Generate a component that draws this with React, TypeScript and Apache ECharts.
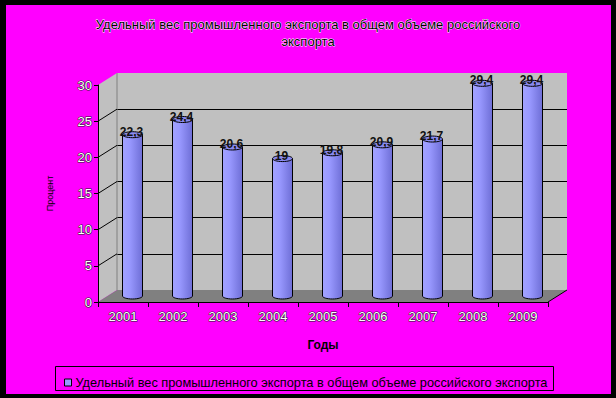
import React, { useEffect, useRef } from "react";
import * as echarts from "echarts";

const years = ["2001", "2002", "2003", "2004", "2005", "2006", "2007", "2008", "2009"];
const shares = [22.3, 24.4, 20.6, 19, 19.8, 20.9, 21.7, 29.4, 29.4];
const wallTicks = [5, 10, 15, 20, 25];
const yMin = 0;
const yMax = 30;
const yStep = 5;
const titleText = "Удельный вес промышленного экспорта в общем объеме российского\nэкспорта";
const seriesName = "Удельный вес промышленного экспорта в общем объеме российского экспорта";
const xName = "Годы";
const yName = "Процент";

// layout
const FL = 98, FT = 85, W = 450, H = 217; // front plane
const DX = 19, DY = -12; // depth offset
const FB = FT + H;

export default function App() {
  const ref = useRef<HTMLDivElement>(null);
  useEffect(() => {
    const chart = echarts.init(ref.current!, null, { renderer: "svg" });
    const outline = { color: "#fff", textBorderColor: "#222", textBorderWidth: 1, fontSize: 13, fontFamily: "Liberation Sans" };
    const hiddenAxis = { show: false };
    chart.setOption({
      animation: false,
      backgroundColor: "#000",
      title: {
        text: titleText,
        left: "center",
        top: 11,
        textStyle: { fontSize: 13, fontWeight: "normal", color: "#000", textBorderColor: "#fff", textBorderWidth: 0.8, fontFamily: "Liberation Sans", lineHeight: 17 },
      },
      legend: {
        left: 59,
        top: 371,
        icon: "rect",
        itemWidth: 7,
        itemHeight: 7,
        itemGap: 4,
        textStyle: { fontSize: 12.75, color: "#000", fontFamily: "Liberation Sans", padding: [0, 0, 0, -1] },
        data: [{ name: seriesName, itemStyle: { color: "#9999FF", borderColor: "#000", borderWidth: 1 } }],
      },
      grid: [
        { left: FL, top: FT, width: W, height: H, z: 0 },
        { left: FL + DX, top: FT + DY, width: W, height: H, show: true, backgroundColor: "#C0C0C0", borderWidth: 0 },
        { left: FL + DX / 2, top: FT + DY / 2, width: W, height: H },
      ],
      xAxis: [
        {
          gridIndex: 0, type: "category", data: years, z: 10,
          axisLine: { lineStyle: { color: "#000", width: 1 } },
          axisTick: { show: true, length: 5, lineStyle: { color: "#000" } },
          axisLabel: { ...outline, margin: 8 },
          name: xName, nameLocation: "middle", nameGap: 37,
          nameTextStyle: { fontSize: 12, fontWeight: "bold", color: "#000", fontFamily: "Liberation Sans" },
        },
        { gridIndex: 1, type: "category", data: years, ...hiddenAxis },
        { gridIndex: 2, type: "category", data: years, ...hiddenAxis },
      ],
      yAxis: [
        {
          gridIndex: 0, type: "value", min: yMin, max: yMax, interval: yStep, z: 10,
          axisLine: { show: true, lineStyle: { color: "#000", width: 1 } },
          axisTick: { show: true, length: 4, lineStyle: { color: "#000" } },
          axisLabel: { ...outline, margin: 6 },
          splitLine: { show: false },
          name: yName, nameLocation: "middle", nameRotate: 90, nameGap: 44,
          nameTextStyle: { fontSize: 9, color: "#000", fontFamily: "Liberation Sans" },
        },
        {
          gridIndex: 1, type: "value", min: yMin, max: yMax, interval: yStep,
          axisLine: { show: false }, axisTick: { show: false }, axisLabel: { show: false },
          splitLine: { show: true, showMinLine: false, showMaxLine: false, lineStyle: { color: "#000", width: 1 } },
        },
        { gridIndex: 2, type: "value", min: yMin, max: yMax, interval: yStep, show: false },
      ],
      graphic: [
        { type: "rect", z: -10, shape: { x: 6, y: 5, width: 605, height: 389 }, style: { fill: "#FF00FF" } },
        {
          type: "polygon", z: 1,
          shape: { points: [[FL, FT], [FL + DX, FT + DY], [FL + DX, FB + DY], [FL, FB]] },
          style: { fill: "#C0C0C0" },
        },
        {
          type: "line", z: 1,
          shape: { x1: FL + DX, y1: FT + DY, x2: FL + DX, y2: FB + DY },
          style: { stroke: "#808080", lineWidth: 1 },
        },
        {
          type: "polygon", z: 1,
          shape: { points: [[FL, FB], [FL + W, FB], [FL + W + DX, FB + DY], [FL + DX, FB + DY]] },
          style: { fill: "#808080" },
        },
        {
          type: "line", z: 11,
          shape: { x1: FL + W, y1: FB, x2: FL + W + DX, y2: FB + DY },
          style: { stroke: "#000", lineWidth: 1 },
        },
        {
          type: "rect", z: 11,
          shape: { x: 55.5, y: 366.5, width: 498, height: 24 },
          style: { fill: "none", stroke: "#000", lineWidth: 1 },
        },
      ],
      series: [
        {
          type: "custom",
          xAxisIndex: 0, yAxisIndex: 0, z: 3, silent: true,
          data: wallTicks.map((v) => [0, v]),
          renderItem: (params: any, api: any) => {
            const p = api.coord([0, api.value(1)]);
            const bw = api.size([1, 0])[0];
            const x0 = p[0] - bw / 2;
            return {
              type: "line",
              shape: { x1: x0, y1: p[1], x2: x0 + DX, y2: p[1] + DY },
              style: { stroke: "#000", lineWidth: 1 },
            };
          },
        },
        {
          name: seriesName,
          type: "custom",
          xAxisIndex: 2, yAxisIndex: 2, z: 5,
          itemStyle: { color: "#9999FF" },
          data: shares.map((v, i) => [i, v]),
          renderItem: (params: any, api: any) => {
            const idx = api.value(0);
            const v = api.value(1);
            const top = api.coord([idx, v]);
            const bot = api.coord([idx, 0]);
            const cx = top[0];
            const r = 10;
            const ry = 3;
            const grad = {
              type: "linear", x: 0, y: 0, x2: 1, y2: 0,
              colorStops: [
                { offset: 0, color: "#A3A3FF" },
                { offset: 0.35, color: "#9999FF" },
                { offset: 1, color: "#6E6ED6" },
              ],
            };
            return {
              type: "group",
              children: [
                { type: "ellipse", shape: { cx, cy: bot[1], rx: r, ry }, style: { fill: grad, stroke: "#000", lineWidth: 1 } },
                { type: "rect", shape: { x: cx - r, y: top[1], width: 2 * r, height: bot[1] - top[1] }, style: { fill: grad } },
                { type: "line", shape: { x1: cx - r, y1: top[1], x2: cx - r, y2: bot[1] }, style: { stroke: "#000", lineWidth: 1 } },
                { type: "line", shape: { x1: cx + r, y1: top[1], x2: cx + r, y2: bot[1] }, style: { stroke: "#000", lineWidth: 1 } },
                { type: "ellipse", shape: { cx, cy: top[1], rx: r, ry }, style: { fill: "#8A8AF0", stroke: "#000", lineWidth: 1 } },
                {
                  type: "text",
                  x: cx - 1, y: top[1] - 3,
                  style: {
                    text: String(v).replace(".", ","),
                    fill: "#111", font: "bold 12px 'Liberation Sans'",
                    align: "center", verticalAlign: "middle",
                  },
                },
              ],
            };
          },
        },
      ],
    });
    return () => chart.dispose();
  }, []);
  return <div ref={ref} style={{ position: "fixed", left: 0, top: 0, width: 616, height: 398 }} />;
}
